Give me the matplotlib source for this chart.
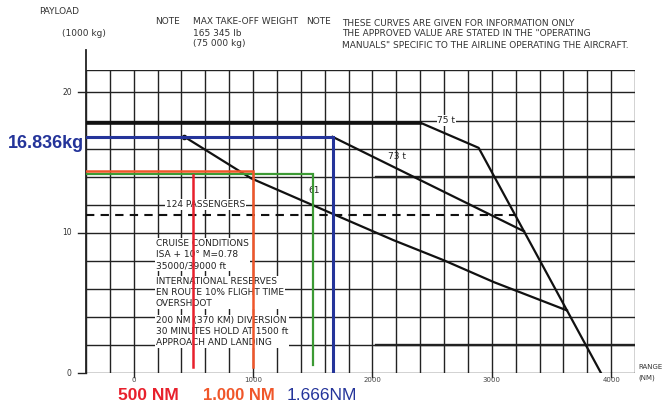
import numpy as np
import matplotlib
matplotlib.use("Agg")
import matplotlib.pyplot as plt

W, H = 664, 405

# payload-range curves (range in NM, payload in 1000 kg)
mtow75_range = [-400, 2400, 2890, 3915]
mtow75_payload = [17.85, 17.85, 16.05, 0.0]
mtow73_range = [1666, 3270]
mtow73_payload = [16.836, 10.1]
mtow61_range = [425, 983, 1655, 2176, 2597, 3017, 3630]
mtow61_payload = [16.836, 13.88, 11.39, 9.47, 8.04, 6.48, 4.46]
pax_range = [-400, 3195]
pax_payload = [11.25, 11.25]

# marked missions
mark_blue = (1666, 16.836)
mark_orange = (1000, 14.4)
mark_red = (500, 14.1)
mark_green = (1500, 14.2)

range_ticks = [0, 1000, 2000, 3000, 4000]
payload_ticks = [0, 10, 20]
grid_x = np.arange(-400, 4201, 200)
grid_y = np.arange(0, 21, 2)

NARROW = ["Liberation Sans Narrow", "DejaVu Sans"]
SANS = ["Liberation Sans", "DejaVu Sans"]
BLUE = "#24349a"
RED = "#e8202c"
ORANGE = "#f0562a"
GREEN = "#3c9a34"
INK = "#222222"

fig = plt.figure(figsize=(W / 100, H / 100), dpi=100)
ax = fig.add_axes([86 / W, 32 / H, (635 - 86) / W, (373 - 70) / H])
ax.set_xlim(-400, 4200)
ax.set_ylim(0, 21.6)
for s in ax.spines.values():
    s.set_visible(False)
ax.set_xticks([])
ax.set_yticks([])

# grid
for gx in grid_x:
    ax.plot([gx, gx], [0, 21.6], color=INK, lw=1.0, zorder=1)
for gy in list(grid_y) + [21.6]:
    ax.plot([-400, 4200], [gy, gy], color=INK, lw=1.0, zorder=1)
for gy in [14, 2]:
    ax.plot([2030, 4200], [gy, gy], color=INK, lw=1.7, zorder=1)

# payload axis
ax.plot([-400, -400], [0, 23.0], color=INK, lw=1.3, clip_on=False, zorder=2)
for t in payload_ticks:
    ax.plot([-470, -400], [t, t], color=INK, lw=1.0, clip_on=False)
    ax.text(-520, t, str(t), ha="right", va="center", fontsize=5.5, color="#333333",
            family=NARROW)
for t in range_ticks:
    ax.plot([t, t], [0, -0.25], color=INK, lw=1.0, clip_on=False)
    ax.text(t, -0.25, str(t), ha="center", va="top", fontsize=5,
            color="#444444", family=NARROW)

# curves
ax.plot(mtow75_range, mtow75_payload, color="#111111", lw=1.6, zorder=4)
ax.plot(mtow75_range[:2], mtow75_payload[:2], color="#111111", lw=2.6, zorder=4)
ax.plot(mtow73_range, mtow73_payload, color="#111111", lw=1.6, zorder=4)
ax.plot(mtow61_range, mtow61_payload, color="#111111", lw=1.6, zorder=4)
ax.plot(mtow61_range[0], mtow61_payload[0], "o", color="#111111", ms=3, zorder=4)
ax.plot(pax_range, pax_payload, color="#111111", lw=1.5, ls=(0, (4, 3)), zorder=4)

lbl = dict(fontsize=6.5, family=NARROW, color="#222222", zorder=5)
wbox = dict(facecolor="white", edgecolor="none", pad=0.6)
ax.text(600, 12.0, "124 PASSENGERS", ha="center", va="center", bbox=wbox, **lbl)
ax.text(2620, 18.0, "75 t", ha="center", va="center", bbox=wbox, **lbl)
ax.text(2130, 15.4, "73 t", ha="left", va="center", **lbl)
ax.text(1513, 13.0, "61", ha="center", va="center", **lbl)

# cruise / reserve notes
notes = [
    (8.45, "CRUISE CONDITIONS\nISA + 10\u00b0 M=0.78\n35000/39000 ft"),
    (5.75, "INTERNATIONAL RESERVES\nEN ROUTE 10% FLIGHT TIME\nOVERSHOOT"),
    (2.95, "200 NM (370 KM) DIVERSION\n30 MINUTES HOLD AT 1500 ft\nAPPROACH AND LANDING"),
]
for y, txt in notes:
    ax.text(185, y, txt, ha="left", va="center", linespacing=1.3,
            bbox=dict(facecolor="white", edgecolor="none", pad=0.8), **lbl)

# marked missions
ax.plot([-400, mark_blue[0], mark_blue[0]], [mark_blue[1], mark_blue[1], 0],
        color=BLUE, lw=2.2, zorder=6, solid_joinstyle="miter")
ax.plot([-400, mark_green[0], mark_green[0]], [mark_green[1], mark_green[1], 0.55],
        color=GREEN, lw=1.6, zorder=6, solid_joinstyle="miter")
ax.plot([-400, mark_orange[0], mark_orange[0]], [mark_orange[1], mark_orange[1], 0.45],
        color=ORANGE, lw=1.8, zorder=7, solid_joinstyle="miter")
ax.plot([mark_red[0], mark_red[0]], [mark_red[1], 0.45], color=RED, lw=1.8, zorder=7)

# header texts
def ftext(x, y, s, **kw):
    fig.text(x / W, 1 - y / H, s, **kw)

hdr = dict(fontsize=6.5, family=NARROW, color="#333333", va="center", ha="left")
ftext(39, 12, "PAYLOAD", **hdr)
ftext(62, 34, "(1000 kg)", **hdr)
ftext(155, 22, "NOTE", **hdr)
ftext(193, 22, "MAX TAKE-OFF WEIGHT", **hdr)
ftext(193, 33, "165 345 lb", **hdr)
ftext(193, 43, "(75 000 kg)", **hdr)
ftext(306, 22, "NOTE", **hdr)
ftext(342, 23, "THESE CURVES ARE GIVEN FOR INFORMATION ONLY", **hdr)
ftext(342, 34, "THE APPROVED VALUE ARE STATED IN THE \"OPERATING", **hdr)
ftext(342, 46, "MANUALS\" SPECIFIC TO THE AIRLINE OPERATING THE AIRCRAFT.", **hdr)
rng = dict(hdr, fontsize=5)
ftext(638, 367, "RANGE", **rng)
ftext(638, 378, "(NM)", **rng)

# value call-outs
ftext(8, 143, "16.836kg", fontsize=13, fontweight="bold", color=BLUE,
      family=SANS, va="center", ha="left")
ftext(118, 395, "500 NM", fontsize=12.5, fontweight="bold", color=RED,
      family=SANS, va="center", ha="left")
ftext(203, 395, "1.000 NM", fontsize=12, fontweight="bold", color=ORANGE,
      family=SANS, va="center", ha="left")
ftext(287, 395, "1.666NM", fontsize=12.5, color=BLUE,
      family=SANS, va="center", ha="left")

fig.savefig("out.png", dpi=100)
